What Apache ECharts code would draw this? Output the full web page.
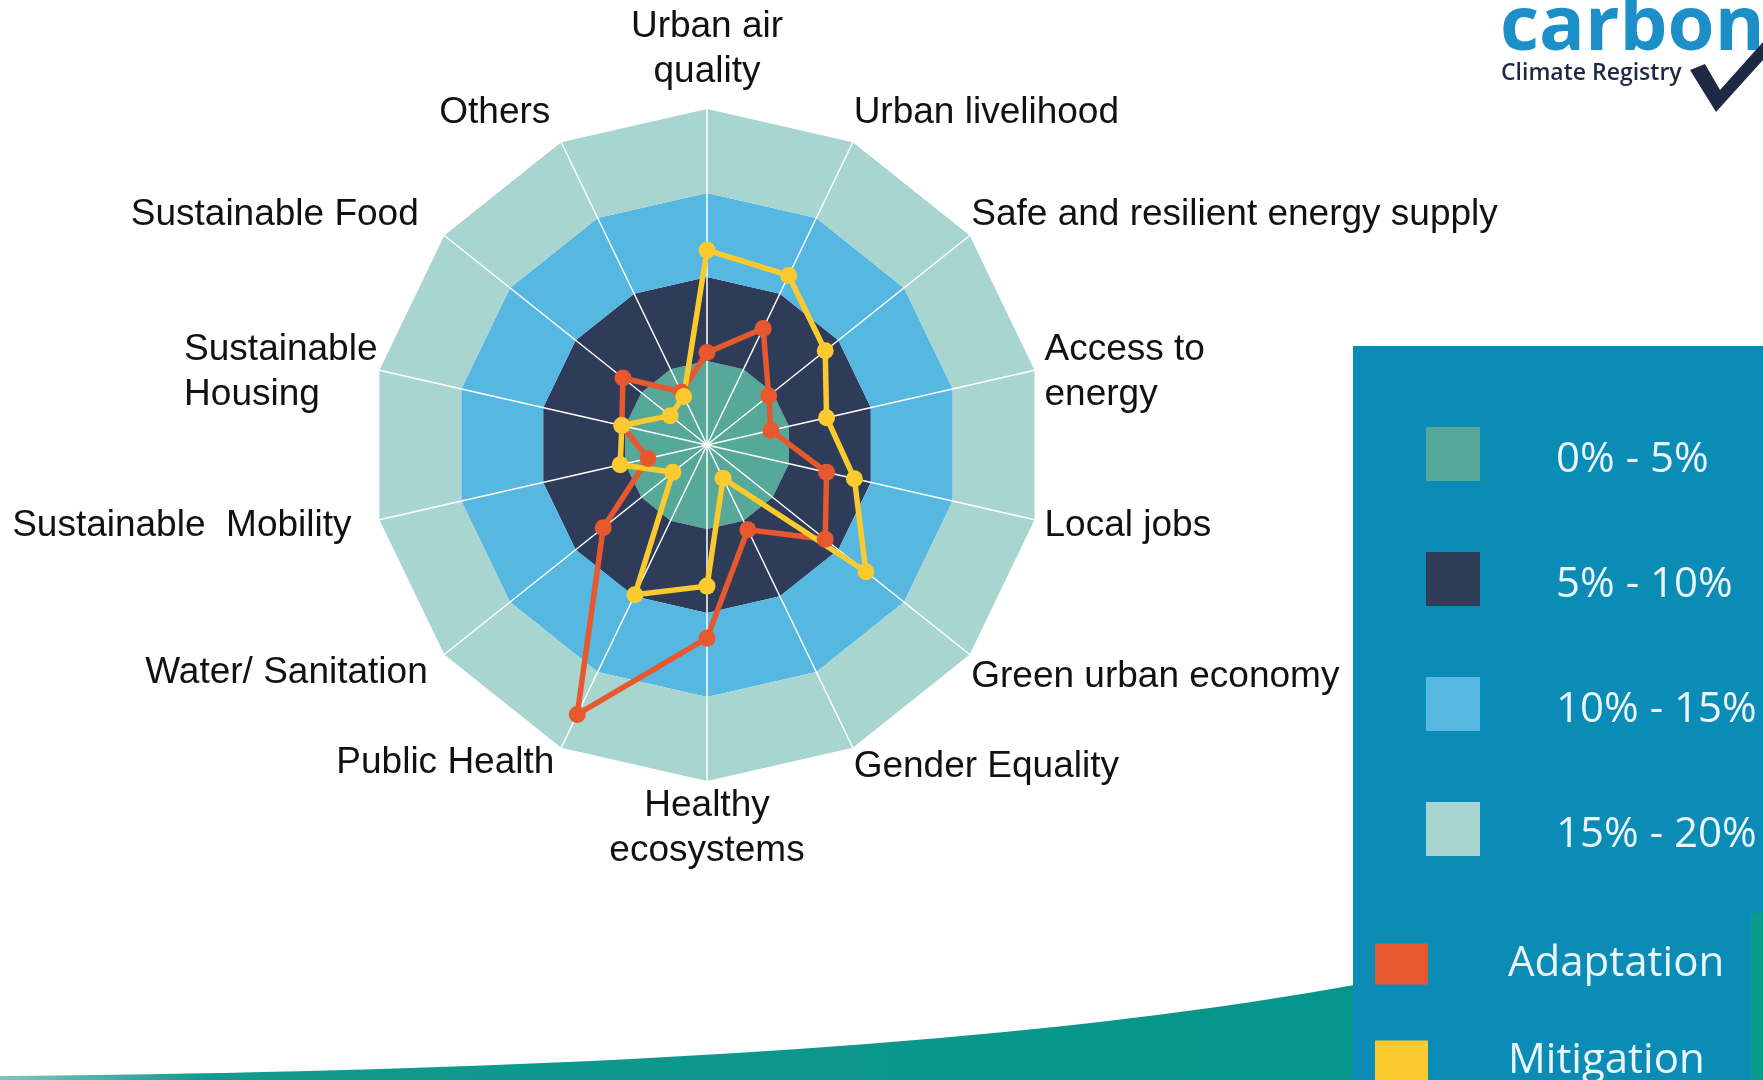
<!DOCTYPE html>
<html>
<head>
<meta charset="utf-8">
<title>Co-benefits radar</title>
<script src="https://cdn.jsdelivr.net/npm/echarts@6/dist/echarts.min.js"></script>
<style>
  html, body { margin: 0; padding: 0; background: #fff; }
  #chart { width: 1763px; height: 1080px; }
</style>
</head>
<body>
<div id="chart"></div>
<script>
// indicators, counter-clockwise from the top (ECharts radar order)
const indicators = [
  'Urban air\nquality', 'Others', 'Sustainable Food', 'Sustainable\nHousing',
  'Sustainable  Mobility', 'Water/ Sanitation', 'Public Health', 'Healthy\necosystems',
  'Gender Equality', 'Green urban economy', 'Local jobs', 'Access to\nenergy',
  'Safe and resilient energy supply', 'Urban livelihood'
]
const seriesNames = ['Adaptation', 'Mitigation']
const adaptation = [5.5, 3.5, 6.4, 5.2, 3.6, 7.9, 17.8, 11.5, 5.6, 9.0, 7.3, 3.9, 4.7, 7.7]
const mitigation = [11.6, 3.2, 2.8, 5.2, 5.3, 2.6, 9.9, 8.4, 2.2, 12.1, 9.0, 7.3, 9.0, 11.2]
const ringLabels = ['0% - 5%', '5% - 10%', '10% - 15%', '15% - 20%']
const ringColors = ['#56a998', '#2f3c59', '#56b8e1', '#a8d5d0']
const seriesColors = ['#e8582e', '#fbca2e']

// label nudges per indicator: [shift down (+) / up (-), extra right pad, extra left pad]
const labelNudge = [
  [-13, 0, 0], [-28, 10, 0], [-19, 24, 0], [3, 0, 0], [6, 26, 0], [17, 15, 0], [13, 6, 0],
  [0, 0, 0], [17, 0, 0], [21, 0, 0], [6, 0, 8], [3, 0, 8], [-19, 0, 0], [-28, 0, 0]
]
const labelFont = 37
const labelLine = 45
const labelFamily = 'Liberation Sans, Arial'

const measureCtx = document.createElement('canvas').getContext('2d')
measureCtx.font = labelFont + 'px "Liberation Sans"'

const rich = {}
const labelText = {}
indicators.forEach(function (name, i) {
  const lines = name.split('\n')
  const nudge = labelNudge[i]
  const maxW = Math.max.apply(null, lines.map(function (l) { return measureCtx.measureText(l).width }))
  const parts = lines.map(function (l, j) {
    const key = 'l' + i + '_' + j
    // left-flush the lines of the right-aligned Housing label
    const flush = i === 3 ? maxW - measureCtx.measureText(l).width : 0
    rich[key] = {
      fontSize: labelFont,
      fontFamily: labelFamily,
      color: '#111',
      lineHeight: labelLine,
      padding: [0, nudge[1] + flush, 0, nudge[2]]
    }
    return '{' + key + '|' + l + '}'
  })
  let txt = parts.join('\n')
  const dy = nudge[0]
  // top label is bottom-anchored, bottom label top-anchored, others centred
  const factor = (i === 0 || i === 7) ? 1 : 2
  if (dy !== 0) {
    const key = 's' + i
    rich[key] = { fontSize: 1, lineHeight: Math.abs(dy) * factor }
    txt = dy < 0 ? txt + '\n{' + key + '| }' : '{' + key + '| }\n' + txt
  }
  labelText[name] = txt
})

const chart = echarts.init(document.getElementById('chart'))

// bottom swoosh outline (decoration), sampled from a cubic curve
function swooshPoints() {
  const p0 = [0, 1076], p1 = [500, 1072], p2 = [1000, 1050], p3 = [1360, 984]
  const pts = [[0, 1080]]
  for (let k = 0; k <= 40; k++) {
    const t = k / 40, u = 1 - t
    pts.push([
      u * u * u * p0[0] + 3 * u * u * t * p1[0] + 3 * u * t * t * p2[0] + t * t * t * p3[0],
      u * u * u * p0[1] + 3 * u * u * t * p1[1] + 3 * u * t * t * p2[1] + t * t * t * p3[1]
    ])
  }
  pts.push([1360, 1080])
  return pts
}

const ringGraphics = []
ringLabels.forEach(function (txt, i) {
  const cy = 454 + i * 125
  ringGraphics.push({
    type: 'rect',
    shape: { x: 1426, y: cy - 27, width: 54, height: 54 },
    style: { fill: ringColors[i] },
    z: 10
  })
  ringGraphics.push({
    type: 'text',
    x: 1556,
    y: cy + 6,
    style: {
      text: txt,
      fill: '#eaf6f9',
      font: '42px "Open Sans"',
      textVerticalAlign: 'middle'
    },
    z: 10
  })
})

chart.setOption({
  backgroundColor: '#fff',
  animation: false,
  legend: {
    data: seriesNames,
    orient: 'vertical',
    left: 1375,
    top: 943,
    height: 220,
    padding: 0,
    icon: 'rect',
    itemWidth: 53,
    itemHeight: 41,
    itemGap: 55,
    textStyle: {
      color: '#eaf6f9',
      fontSize: 42,
      fontFamily: 'Open Sans',
      lineHeight: 41,
      padding: [0, 0, 0, 75]
    },
    z: 20
  },
  radar: {
    center: [707, 445],
    radius: 336,
    startAngle: 90,
    splitNumber: 4,
    shape: 'polygon',
    nameGap: 2,
    indicator: indicators.map(function (n) { return { name: n, min: 0, max: 20 } }),
    axisName: {
      color: '#111',
      fontSize: labelFont,
      fontFamily: labelFamily,
      lineHeight: labelLine,
      formatter: function (name) { return labelText[name] },
      rich: rich
    },
    axisLine: { lineStyle: { color: '#fff', width: 1.5 } },
    splitLine: { show: false },
    splitArea: { areaStyle: { color: ringColors } },
    axisTick: { show: false },
    axisLabel: { show: false }
  },
  series: [{
    type: 'radar',
    symbol: 'circle',
    symbolSize: 17,
    data: [
      {
        name: seriesNames[0],
        value: adaptation,
        lineStyle: { color: seriesColors[0], width: 5.5 },
        itemStyle: { color: seriesColors[0] }
      },
      {
        name: seriesNames[1],
        value: mitigation,
        lineStyle: { color: seriesColors[1], width: 5.5 },
        itemStyle: { color: seriesColors[1] }
      }
    ]
  }],
  graphic: [
    // teal swoosh along the bottom
    {
      type: 'polygon',
      shape: { points: swooshPoints() },
      style: {
        fill: {
          type: 'linear', x: 0, y: 0, x2: 1, y2: 0,
          colorStops: [
            { offset: 0, color: '#7cc6bf' },
            { offset: 0.15, color: '#139a8e' },
            { offset: 1, color: '#05958a' }
          ]
        }
      },
      z: 1
    },
    // legend panel
    {
      type: 'rect',
      shape: { x: 1353, y: 346, width: 410, height: 734 },
      style: { fill: '#0a8cb6' },
      z: 5
    },
    {
      type: 'rect',
      shape: { x: 1751, y: 913, width: 12, height: 167 },
      style: { fill: '#0b9a8c' },
      z: 6
    },
    // logo
    {
      type: 'text',
      x: 1500,
      y: 66,
      style: {
        text: 'carbon',
        fill: '#1c8fc9',
        font: 'bold 76px "Open Sans"',
        textVerticalAlign: 'bottom'
      },
      z: 10
    },
    {
      type: 'text',
      x: 1501,
      y: 85,
      style: {
        text: 'Climate Registry',
        fill: '#1e2a44',
        font: '600 23px "Open Sans"',
        textVerticalAlign: 'bottom'
      },
      z: 10
    },
    {
      type: 'polygon',
      shape: { points: [[1690, 70], [1705, 64], [1720, 90], [1763, 42], [1763, 60], [1716, 112]] },
      style: { fill: '#1e2a44' },
      z: 10
    }
  ].concat(ringGraphics)
})
</script>
</body>
</html>
